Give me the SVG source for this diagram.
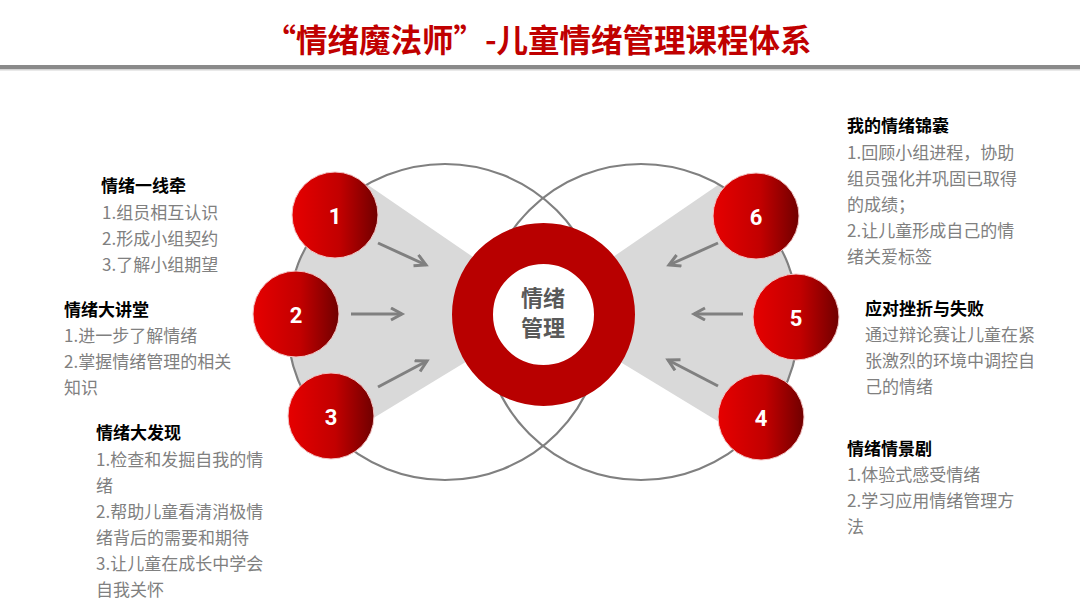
<svg xmlns="http://www.w3.org/2000/svg" width="1080" height="607" viewBox="0 0 1080 607">
<defs>
<linearGradient id="rg" x1="0" y1="0" x2="1" y2="0">
<stop offset="0" stop-color="#e60000"/>
<stop offset="0.55" stop-color="#c20000"/>
<stop offset="1" stop-color="#700000"/>
</linearGradient>
<marker id="ah" markerUnits="userSpaceOnUse" markerWidth="16" markerHeight="16" refX="12" refY="7" orient="auto">
<path d="M1,1 L12,7 L1,13" fill="none" stroke="#808080" stroke-width="3" stroke-linejoin="miter"/>
</marker>
<style>
.t{font-family:"Noto Sans CJK SC","Noto Sans",sans-serif;}
.h{font-family:"Noto Sans CJK SC",sans-serif;font-size:17px;font-weight:700;fill:#000;}
.b{font-family:"Noto Sans CJK SC",sans-serif;font-size:17px;fill:#808080;}
.num{font-family:Roboto,"Noto Sans",sans-serif;font-size:22px;font-weight:700;fill:#fff;text-anchor:middle;}
.sc{fill:url(#rg);stroke:#f2c4c4;stroke-width:1;}
.big{fill:none;stroke:#808080;stroke-width:2.2;}
.arr{stroke:#808080;stroke-width:3;fill:none;marker-end:url(#ah);}
</style>
</defs>
<rect width="1080" height="607" fill="#fff"/>
<text x="538" y="52" class="t" font-size="31.5" font-weight="700" fill="#c00000" text-anchor="middle">“情绪魔法师”-儿童情绪管理课程体系</text>
<rect x="0" y="65" width="1080" height="4" fill="#8a8a8a"/>
<rect x="0" y="69" width="1080" height="1.5" fill="#d4d4d4"/>

<g id="background">
<path d="M543,305 L368,185 A158,158 0 0 0 339,439 L543,315 Z" fill="#d9d9d9"/>
<path d="M543,305 L718,185 A158,158 0 0 1 747,439 L543,315 Z" fill="#d9d9d9"/>
<circle class="big" cx="445" cy="322" r="158"/>
<circle class="big" cx="641" cy="322" r="158"/>
</g>

<g id="connectors">
<line class="arr" x1="378" y1="243" x2="426" y2="265"/>
<line class="arr" x1="351" y1="314" x2="402" y2="314"/>
<line class="arr" x1="378" y1="387" x2="427" y2="361"/>
<line class="arr" x1="718" y1="243" x2="669" y2="265"/>
<line class="arr" x1="743" y1="314" x2="694" y2="314"/>
<line class="arr" x1="718" y1="386" x2="668" y2="360"/>
</g>

<g id="center">
<circle cx="543.5" cy="314.5" r="71" fill="#fff" stroke="#b80000" stroke-width="41"/>
<text x="543" y="306" class="t" font-size="22" font-weight="700" fill="#595959" text-anchor="middle">情绪</text>
<text x="543" y="336" class="t" font-size="22" font-weight="700" fill="#595959" text-anchor="middle">管理</text>
</g>

<g id="node1">
<circle class="sc" cx="335" cy="215" r="43"/>
<text class="num" x="335" y="224">1</text>
<text class="h" x="101" y="192">情绪一线牵</text>
<text class="b" x="102" y="219">1.组员相互认识</text>
<text class="b" x="102" y="245">2.形成小组契约</text>
<text class="b" x="102" y="271">3.了解小组期望</text>
</g>

<g id="node2">
<circle class="sc" cx="296" cy="314" r="43"/>
<text class="num" x="296" y="323">2</text>
<text class="h" x="64" y="316">情绪大讲堂</text>
<text class="b" x="64" y="342">1.进一步了解情绪</text>
<text class="b" x="64" y="368">2.掌握情绪管理的相关</text>
<text class="b" x="64" y="394">知识</text>
</g>

<g id="node3">
<circle class="sc" cx="331" cy="416" r="43"/>
<text class="num" x="331" y="425">3</text>
<text class="h" x="96" y="439">情绪大发现</text>
<text class="b" x="96" y="466">1.检查和发掘自我的情</text>
<text class="b" x="96" y="492">绪</text>
<text class="b" x="96" y="518">2.帮助儿童看清消极情</text>
<text class="b" x="96" y="544">绪背后的需要和期待</text>
<text class="b" x="96" y="570">3.让儿童在成长中学会</text>
<text class="b" x="96" y="596">自我关怀</text>
</g>

<g id="node4">
<circle class="sc" cx="761" cy="417" r="43"/>
<text class="num" x="761" y="426">4</text>
<text class="h" x="847" y="455">情绪情景剧</text>
<text class="b" x="847" y="481">1.体验式感受情绪</text>
<text class="b" x="847" y="507">2.学习应用情绪管理方</text>
<text class="b" x="847" y="533">法</text>
</g>

<g id="node5">
<circle class="sc" cx="796" cy="317" r="43"/>
<text class="num" x="796" y="326">5</text>
<text class="h" x="865" y="315">应对挫折与失败</text>
<text class="b" x="865" y="341">通过辩论赛让儿童在紧</text>
<text class="b" x="865" y="367">张激烈的环境中调控自</text>
<text class="b" x="865" y="393">己的情绪</text>
</g>

<g id="node6">
<circle class="sc" cx="756" cy="216" r="43"/>
<text class="num" x="756" y="225">6</text>
<text class="h" x="847" y="132">我的情绪锦囊</text>
<text class="b" x="847" y="159">1.回顾小组进程，协助</text>
<text class="b" x="847" y="185">组员强化并巩固已取得</text>
<text class="b" x="847" y="211">的成绩；</text>
<text class="b" x="847" y="237">2.让儿童形成自己的情</text>
<text class="b" x="847" y="263">绪关爱标签</text>
</g>
</svg>
